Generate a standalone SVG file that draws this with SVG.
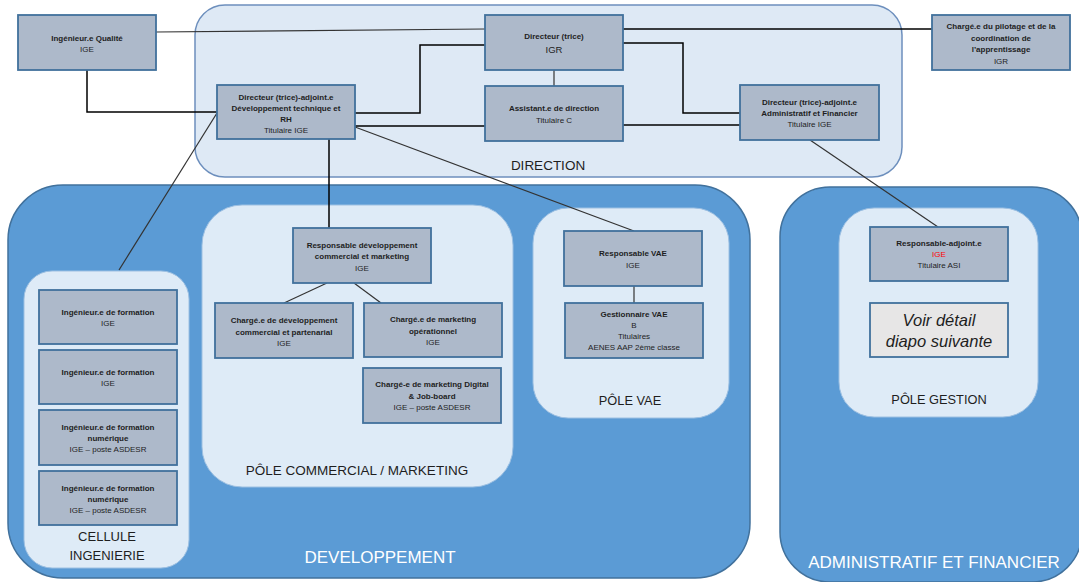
<svg xmlns="http://www.w3.org/2000/svg" width="1079" height="582" viewBox="0 0 1079 582">
<style>
.dir{fill:#dee9f5;stroke:#6d8fbd;stroke-width:1.5}
.big{fill:#5b9bd5;stroke:#41719c;stroke-width:1.5}
.pole{fill:#deebf7;stroke:#9dc0e2;stroke-width:1}
.node{fill:#adb9ca;stroke:#41719c;stroke-width:1.8}
.voir{fill:#e7e6e6;stroke:#41719c;stroke-width:1.8}
text{font-family:"Liberation Sans",Arial,sans-serif;text-anchor:middle;fill:#1e1e1e}
.t{font-size:8px;font-weight:bold}
.r{font-size:8px}
.lbl{font-size:13.5px;fill:#1e1e1e}
.wl{font-size:17px;fill:#ffffff}
.it{font-size:16.5px;font-style:italic}
.c{fill:none;stroke:#000;stroke-width:1.5}
.cg{fill:none;stroke:#333;stroke-width:1.2}
</style>
<g id="containers">
<rect id="direction" class="dir" x="195" y="5" width="707" height="172" rx="30"/>
<text class="lbl" x="548" y="170" font-size="14">DIRECTION</text>
<rect id="developpement" class="big" x="8" y="185" width="742" height="393" rx="55"/>
<text class="wl" x="380" y="563">DEVELOPPEMENT</text>
<rect id="admin" class="big" x="780" y="187" width="302" height="395" rx="50"/>
<text class="wl" x="934" y="568">ADMINISTRATIF ET FINANCIER</text>
<rect id="cellule" class="pole" x="24" y="271" width="165" height="297" rx="28"/>
<text class="lbl" x="107" y="541" style="font-size:13px">CELLULE</text>
<text class="lbl" x="107" y="560" style="font-size:13px">INGENIERIE</text>
<rect id="pole-commercial" class="pole" x="202" y="205" width="311" height="282" rx="40"/>
<text class="lbl" x="357" y="475">PÔLE COMMERCIAL / MARKETING</text>
<rect id="pole-vae" class="pole" x="533" y="208" width="196" height="210" rx="35"/>
<text class="lbl" x="630" y="405" style="font-size:12.8px">PÔLE VAE</text>
<rect id="pole-gestion" class="pole" x="839" y="208" width="199" height="209" rx="35"/>
<text class="lbl" x="939" y="404" style="font-size:12.8px">PÔLE GESTION</text>
</g>
<g id="connectors">
<polyline class="cg" points="156,32 485,29"/>
<polyline class="c" points="87,70 87,112 217,112"/>
<polyline class="c" points="485,45 420,45 420,113 355,113"/>
<polyline class="c" points="355,126 485,126"/>
<polyline class="c" points="623,29 932,29"/>
<polyline class="c" points="623,43 683,43 683,113 740,113"/>
<polyline class="c" points="623,125 740,125"/>
<polyline class="cg" points="554,70 554,86"/>
<polyline class="c" points="329,139 329,228"/>
<polyline class="cg" points="217,113 119,270"/>
<polyline class="cg" points="355,127 634,231"/>
<polyline class="cg" points="810,140 938,227"/>
<polyline class="cg" points="327,283 284,303"/>
<polyline class="cg" points="354,283 381,303"/>
<polyline class="cg" points="634,286 634,303"/>
</g>
<g id="n-qualite"><rect class="node" x="18" y="15" width="138" height="55"/>
<text class="t" x="87" y="40.5">Ingénieur.e Qualité</text><text class="r" x="87" y="51.5">IGE</text></g>
<g id="n-directeur"><rect class="node" x="485" y="15" width="138" height="55"/>
<text class="t" x="554" y="39">Directeur (trice)</text><text class="r" x="554" y="52.5" style="font-size:9.5px">IGR</text></g>
<g id="n-dtrh"><rect class="node" x="217" y="85" width="138" height="54"/>
<text class="t" x="286" y="100">Directeur (trice)-adjoint.e</text>
<text class="t" x="286" y="111">Développement technique et</text>
<text class="t" x="286" y="122">RH</text>
<text class="r" x="286" y="133">Titulaire IGE</text></g>
<g id="n-assistant"><rect class="node" x="485" y="86" width="138" height="55"/>
<text class="t" x="554" y="111">Assistant.e de direction</text>
<text class="r" x="554" y="122.5">Titulaire C</text></g>
<g id="n-daf"><rect class="node" x="740" y="85" width="139" height="55"/>
<text class="t" x="809.5" y="105">Directeur (trice)-adjoint.e</text>
<text class="t" x="809.5" y="116">Administratif et Financier</text>
<text class="r" x="809.5" y="127">Titulaire IGE</text></g>
<g id="n-pilotage"><rect class="node" x="932" y="15" width="138" height="55"/>
<text class="t" x="1001" y="29">Chargé.e du pilotage et de la</text>
<text class="t" x="1001" y="40.5">coordination de</text>
<text class="t" x="1001" y="52">l’apprentissage</text>
<text class="r" x="1001" y="63.5">IGR</text></g>
<g id="n-ing1"><rect class="node" x="39" y="290" width="138" height="54"/>
<text class="t" x="108" y="314.5">Ingénieur.e de formation</text><text class="r" x="108" y="325.5">IGE</text></g>
<g id="n-ing2"><rect class="node" x="39" y="350" width="138" height="54"/>
<text class="t" x="108" y="375">Ingénieur.e de formation</text><text class="r" x="108" y="386">IGE</text></g>
<g id="n-ing3"><rect class="node" x="39" y="410" width="138" height="55"/>
<text class="t" x="108" y="430">Ingénieur.e de formation</text>
<text class="t" x="108" y="441">numérique</text>
<text class="r" x="108" y="452">IGE – poste ASDESR</text></g>
<g id="n-ing4"><rect class="node" x="39" y="471" width="138" height="54"/>
<text class="t" x="108" y="490.5">Ingénieur.e de formation</text>
<text class="t" x="108" y="501.5">numérique</text>
<text class="r" x="108" y="512.5">IGE – poste ASDESR</text></g>
<g id="n-resp-dev"><rect class="node" x="293" y="228" width="138" height="55"/>
<text class="t" x="362" y="247.5">Responsable développement</text>
<text class="t" x="362" y="259">commercial et marketing</text>
<text class="r" x="362" y="270.5">IGE</text></g>
<g id="n-charge-dev"><rect class="node" x="215" y="303" width="138" height="55"/>
<text class="t" x="284" y="323">Chargé.e de développement</text>
<text class="t" x="284" y="334.5">commercial et partenarial</text>
<text class="r" x="284" y="346">IGE</text></g>
<g id="n-charge-mkt"><rect class="node" x="364" y="303" width="138" height="54"/>
<text class="t" x="433" y="322">Chargé.e de marketing</text>
<text class="t" x="433" y="333.5">opérationnel</text>
<text class="r" x="433" y="344.5">IGE</text></g>
<g id="n-charge-digital"><rect class="node" x="363" y="368" width="138" height="55"/>
<text class="t" x="432" y="387">Chargé-e de marketing Digital</text>
<text class="t" x="432" y="398.5">&amp; Job-board</text>
<text class="r" x="432" y="410">IGE – poste ASDESR</text></g>
<g id="n-resp-vae"><rect class="node" x="564" y="231" width="138" height="55"/>
<text class="t" x="633" y="256">Responsable VAE</text>
<text class="r" x="633" y="268">IGE</text></g>
<g id="n-gest-vae"><rect class="node" x="565" y="303" width="138" height="55"/>
<text class="t" x="634" y="317">Gestionnaire VAE</text>
<text class="r" x="634" y="328">B</text>
<text class="r" x="634" y="339">Titulaires</text>
<text class="r" x="634" y="350">AENES AAP 2ème classe</text></g>
<g id="n-resp-adj"><rect class="node" x="870" y="227" width="138" height="54"/>
<text class="t" x="939" y="246">Responsable-adjoint.e</text>
<text class="r" x="939" y="257" style="fill:#ff0000">IGE</text>
<text class="r" x="939" y="268">Titulaire ASI</text></g>
<g id="n-voir"><rect class="voir" x="870" y="303" width="138" height="54"/>
<text class="it" x="939" y="326">Voir détail</text>
<text class="it" x="939" y="347">diapo suivante</text></g>
</svg>
